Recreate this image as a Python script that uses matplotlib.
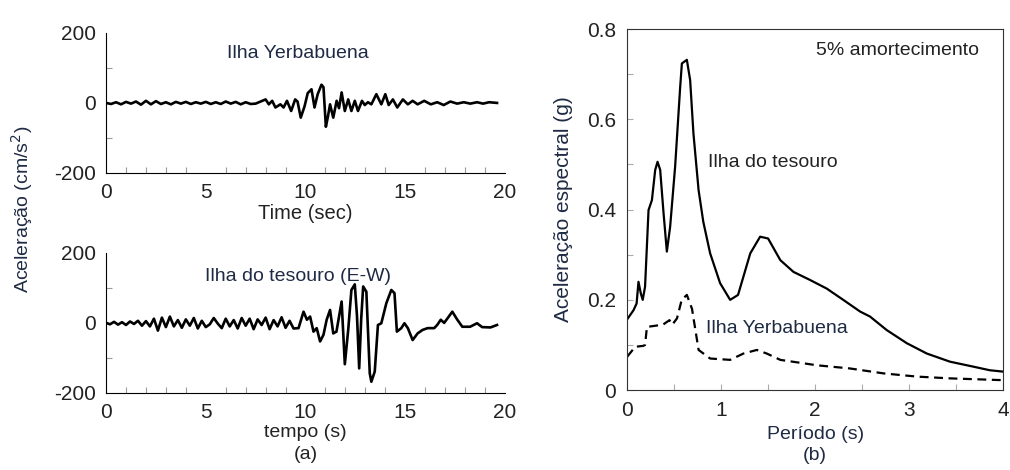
import matplotlib.pyplot as plt
from matplotlib.ticker import MultipleLocator, FixedLocator

plt.rcParams["font.family"] = ["Liberation Sans", "DejaVu Sans"]
plt.rcParams["axes.unicode_minus"] = False

TXT = "#1f2a44"

# Ilha Yerbabuena - registro (cm/s2)
t_yerba = [0, 0.25, 0.5, 0.75, 1.0, 1.25, 1.5, 1.75, 2.0, 2.25, 2.5, 2.75, 3.0, 3.25, 3.5,
           3.75, 4.0, 4.25, 4.5, 4.75, 5.0, 5.25, 5.5, 5.75, 6.0, 6.25, 6.5, 6.75, 7.0, 7.25,
           7.5, 7.83, 8.0, 8.16, 8.33, 8.49, 8.74, 8.9, 9.07, 9.28, 9.48, 9.6, 9.76, 9.95,
           10.11, 10.3, 10.45, 10.61, 10.8, 10.9, 11.02, 11.12, 11.23, 11.39, 11.56, 11.68,
           11.81, 11.97, 12.14, 12.3, 12.47, 12.63, 12.83, 12.97, 13.13, 13.3, 13.55, 13.8,
           14.0, 14.17, 14.38, 14.6, 14.88, 15.13, 15.37, 15.62, 15.95, 16.28, 16.6, 16.93,
           17.26, 17.6, 17.93, 18.26, 18.6, 18.9, 19.2, 19.6]
a_yerba = [0, -3, 2, -4, 3, -2, 4, -5, 6, -4, 5, -3, 2, -4, 3,
           -2, 3, -3, 2, -2, 3, -3, 2, -3, 4, -2, 3, -4, 2, -3,
           -2, 6, 10, -4, 6, -13, -4, -13, 6, -23, 10, 4, -42, -10,
           28, 39, -13, 25, 52, 45, -68, -40, -4, -42, 6, -15,
           30, -23, 10, -23, 6, -23, 6, -6, 2, -4, 25, -4,
           25, -6, 10, -13, 10, -4, 6, -4, 6, -4, 2, -6,
           4, -2, 2, -2, 2, -2, 2, 0]

# Ilha do tesouro (E-W) - registro (cm/s2)
t_tes = [0, 0.2, 0.4, 0.6, 0.8, 1.0, 1.2, 1.4, 1.6, 1.8, 2.0, 2.2, 2.4, 2.6, 2.8, 3.0,
         3.2, 3.4, 3.6, 3.8, 4.0, 4.2, 4.4, 4.6, 4.8, 5.0, 5.2, 5.4, 5.6, 5.8, 6.0, 6.2,
         6.4, 6.6, 6.8, 7.0, 7.2, 7.4, 7.6, 7.8, 8.0, 8.2, 8.4, 8.6, 8.8, 9.0, 9.2, 9.4,
         9.65, 9.9, 10.07, 10.23, 10.4, 10.56, 10.73, 10.9, 11.06, 11.23, 11.39, 11.55,
         11.81, 11.97, 12.14, 12.3, 12.47, 12.58, 12.69, 12.79, 12.89, 13.05, 13.22, 13.3,
         13.47, 13.63, 13.8, 14.05, 14.3, 14.46, 14.58, 14.8, 14.96, 15.13, 15.37, 15.62,
         15.87, 16.12, 16.45, 16.6, 16.78, 16.95, 17.36, 17.61, 17.86, 18.25, 18.6, 18.85,
         19.27, 19.6]
a_tes = [0, -4, 3, -5, 2, -6, 4, -3, 6, -8, 5, -10, 12, -22, 15, -12,
         18, -10, 8, -14, 10, -8, 14, -16, 6, -12, -4, 14, -2, -15, 12, -10,
         8, -16, 14, -8, 12, -18, 10, -6, 15, -18, 8, -10, 16, -14, 6, -16,
         -15, 32, 9, 18, -25, -15, -53, -34, 9, 37, -30, -25,
         61, -118, -20, 94, 110, 20, -130, 10, 104, 89, -144, -168,
         -139, -6, -1, 56, 94, 85, -25, -15, -1, -15, -49, -30,
         -20, -15, -15, -6, 9, 0, 32, 9, -11, -11, -1, -12,
         -13, -6]

# espectro de resposta (g), 5% amortecimento
T_tes = [0, 0.067, 0.10, 0.12, 0.145, 0.165, 0.19, 0.227, 0.263, 0.298, 0.323, 0.351,
         0.387, 0.422, 0.457, 0.51, 0.564, 0.582, 0.635, 0.67, 0.705, 0.76, 0.81, 0.883,
         0.989, 1.096, 1.18, 1.31, 1.415, 1.50, 1.63, 1.77, 1.947, 2.124, 2.30, 2.48, 2.585,
         2.763, 2.976, 3.19, 3.436, 3.684, 3.86, 4.0]
Sa_tes = [0.157, 0.177, 0.192, 0.240, 0.214, 0.200, 0.229, 0.399, 0.421, 0.488, 0.506,
          0.488, 0.392, 0.307, 0.362, 0.495, 0.672, 0.724, 0.732, 0.687, 0.569, 0.443, 0.373,
          0.303, 0.237, 0.200, 0.211, 0.303, 0.340, 0.336, 0.288, 0.262, 0.244, 0.225, 0.200,
          0.174, 0.163, 0.133, 0.104, 0.081, 0.063, 0.052, 0.044, 0.041]

T_yerba = [0, 0.085, 0.17, 0.19, 0.21, 0.38, 0.45, 0.48, 0.53, 0.58, 0.635, 0.69, 0.76,
           0.883, 1.096, 1.237, 1.38, 1.486, 1.63, 2.02, 2.37, 2.73, 3.08, 3.436, 4.0]
Sa_yerba = [0.074, 0.096, 0.098, 0.1, 0.14, 0.145, 0.155, 0.145, 0.159, 0.200, 0.211,
            0.180, 0.089, 0.070, 0.067, 0.081, 0.089, 0.081, 0.067, 0.055, 0.048, 0.037,
            0.030, 0.026, 0.022]


def style_left(ax):
    ax.spines["top"].set_visible(False)
    ax.spines["right"].set_visible(False)
    ax.set_xlim(0, 20)
    ax.set_ylim(-200, 200)
    ax.set_yticks([-200, 0, 200])
    ax.set_xticks([0, 5, 10, 15, 20])
    ax.xaxis.set_minor_locator(MultipleLocator(1))
    ax.yaxis.set_minor_locator(FixedLocator([-100, 100]))
    ax.tick_params(which="major", length=0, labelsize=15, pad=7, labelcolor="#222222")
    ax.tick_params(which="minor", direction="in", length=4, color="#999999", width=0.8)
    ax.patch.set_alpha(0)


fig = plt.figure(figsize=(10.1, 4.7), dpi=100)

ax1 = fig.add_axes([0.105, 0.632, 0.395, 0.298])
ax1.plot(t_yerba, a_yerba, color="black", lw=1.9)
style_left(ax1)
ax1.set_xlabel("Time (sec)", fontsize=14.5, labelpad=2, color="#222222")
ax1.text(0.48, 0.85, "Ilha Yerbabuena", transform=ax1.transAxes, ha="center", va="center",
         fontsize=14, color=TXT)

ax2 = fig.add_axes([0.105, 0.164, 0.395, 0.298])
ax2.plot(t_tes, a_tes, color="black", lw=1.9)
style_left(ax2)
ax2.set_xlabel("tempo (s)\n(a)", fontsize=14, labelpad=2, color="#222222", linespacing=1.35)
ax2.text(0.48, 0.83, "Ilha do tesouro (E-W)", transform=ax2.transAxes, ha="center",
         va="center", fontsize=14, color=TXT)

fig.text(0.022, 0.555, "Aceleração (cm/s$^2$)", rotation=90, ha="center", va="center",
         fontsize=14, color=TXT)

ax3 = fig.add_axes([0.621, 0.170, 0.372, 0.768])
ax3.plot(T_tes, Sa_tes, color="black", lw=1.6)
ax3.plot(T_yerba, Sa_yerba, color="black", lw=1.6, linestyle=(0, (4, 2.5)))
ax3.set_xlim(0, 4)
ax3.set_ylim(0, 0.8)
ax3.set_xticks([0, 1, 2, 3, 4])
ax3.set_yticks([0, 0.2, 0.4, 0.6, 0.8])
ax3.set_yticklabels(["0", "0.2", "0.4", "0.6", "0.8"])
ax3.xaxis.set_minor_locator(MultipleLocator(0.5))
ax3.yaxis.set_minor_locator(MultipleLocator(0.1))
ax3.tick_params(which="major", direction="in", length=4, color="#aaaaaa", labelsize=15,
                pad=8, labelcolor="#222222")
ax3.tick_params(which="minor", direction="in", length=4, color="#aaaaaa", width=0.8)
for s in ax3.spines.values():
    s.set_color("#333333")
ax3.set_xlabel("Período (s)\n(b)", fontsize=14, labelpad=4, color=TXT, linespacing=1.35)
ax3.set_ylabel("Aceleração espectral (g)", fontsize=15, color=TXT, labelpad=10)
ax3.text(0.935, 0.94, "5% amortecimento", transform=ax3.transAxes, ha="right", va="center",
         fontsize=14, color="#222222")
ax3.text(0.215, 0.63, "Ilha do tesouro", transform=ax3.transAxes, ha="left", va="center",
         fontsize=14, color="#222222")
ax3.text(0.21, 0.17, "Ilha Yerbabuena", transform=ax3.transAxes, ha="left", va="center",
         fontsize=14, color=TXT, bbox=dict(facecolor="white", edgecolor="none", pad=1))

fig.savefig("out.png", dpi=100)
